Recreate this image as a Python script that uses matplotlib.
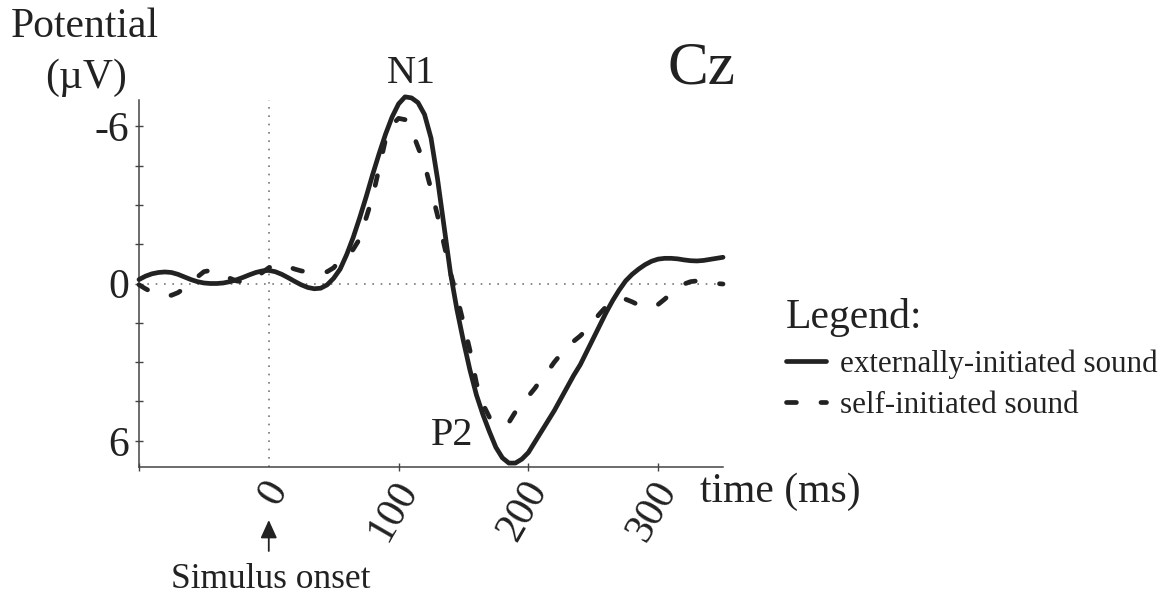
import numpy as np
import matplotlib
matplotlib.use("Agg")
import matplotlib.pyplot as plt
from matplotlib.transforms import ScaledTranslation

# ---------------- data ----------------
time_ms = [-100, -95, -90, -85, -80, -75, -70, -65, -60, -55, -50, -45, -40, -35, -30, -25,
           -20, -15, -10, -5, 0, 5, 10, 15, 20, 25, 30, 35, 40, 45, 50, 55, 60, 65, 70, 75,
           80, 85, 90, 95, 100, 105, 110, 115, 120, 125, 130, 135, 140, 145, 150, 155, 160,
           165, 170, 175, 180, 185, 190, 195, 200, 205, 210, 215, 220, 225, 230, 235, 240,
           245, 250, 255, 260, 265, 270, 275, 280, 285, 290, 295, 300, 305, 310, 315, 320,
           325, 330, 335, 340, 345, 350]

external_uv = [-0.15, -0.28, -0.37, -0.42, -0.44, -0.42, -0.35, -0.25, -0.15, -0.07, -0.02,
               0.00, 0.00, -0.02, -0.07, -0.14, -0.23, -0.33, -0.42, -0.48, -0.50, -0.45,
               -0.35, -0.22, -0.08, 0.05, 0.15, 0.20, 0.18, 0.05, -0.20, -0.55, -1.10, -1.75,
               -2.50, -3.30, -4.15, -4.95, -5.70, -6.35, -6.85, -7.12, -7.08, -6.90, -6.45,
               -5.55, -4.00, -2.20, -0.40, 1.00, 2.20, 3.30, 4.25, 5.00, 5.65, 6.25, 6.65,
               6.85, 6.85, 6.70, 6.45, 6.05, 5.65, 5.25, 4.85, 4.40, 3.95, 3.50, 3.10, 2.60,
               2.10, 1.60, 1.10, 0.65, 0.25, -0.10, -0.35, -0.55, -0.72, -0.85, -0.93, -0.96,
               -0.96, -0.94, -0.90, -0.87, -0.86, -0.88, -0.92, -0.96, -1.00]

self_uv = [0.05, 0.20, 0.33, 0.42, 0.47, 0.45, 0.35, 0.18, -0.02, -0.25, -0.45, -0.50, -0.45,
           -0.32, -0.20, -0.10, -0.06, -0.10, -0.22, -0.42, -0.60, -0.72, -0.72, -0.64, -0.55,
           -0.48, -0.44, -0.43, -0.42, -0.45, -0.60, -0.90, -1.00, -1.30, -1.70, -2.50,
           -3.30, -4.40, -5.50, -6.05, -6.30, -6.25, -5.85, -5.20, -4.55, -3.60, -2.60,
           -1.50, -0.40, 0.50, 1.50, 2.55, 3.80, 4.60, 5.10, 5.35, 5.40, 5.30, 4.90, 4.58,
           4.30, 4.00, 3.65, 3.35, 3.00, 2.70, 2.45, 2.20, 2.00, 1.75, 1.45, 1.15, 0.88,
           0.70, 0.58, 0.60, 0.70, 0.82, 0.90, 0.90, 0.80, 0.60, 0.38, 0.18, 0.02, -0.07,
           -0.10, -0.10, -0.03, 0.00, 0.02]

series_labels = ["externally-initiated sound", "self-initiated sound"]
x_tick_values = [-100, 0, 100, 200, 300]
x_tick_labels = ["", "0", "100", "200", "300"]
y_tick_values = [-6, -4.5, -3, -1.5, 0, 1.5, 3, 4.5, 6]
y_tick_labels = ["-6", "", "", "", "0", "", "", "", "6"]

# ---------------- style ----------------
W, H = 1169, 594
INK = "#222222"
plt.rcParams["font.family"] = ["Liberation Serif", "DejaVu Serif"]
plt.rcParams["text.color"] = INK

fig = plt.figure(figsize=(W / 100, H / 100), dpi=100)
fig.patch.set_facecolor("white")


def fx(px):
    return px / W


def fy(py):
    return 1 - py / H


ax = fig.add_axes([fx(139), fy(467), fx(723) - fx(139), fy(100) - fy(467)])
ax.set_facecolor("white")

# zero reference lines
ax.axhline(0, color="#777777", lw=1.2, ls=(0, (1, 4)), zorder=1)
ax.axvline(0, color="#777777", lw=1.2, ls=(0, (1, 4)), zorder=1)

ax.plot(time_ms, external_uv, color=INK, lw=3.4, solid_capstyle="round",
        label=series_labels[0], clip_on=False, zorder=3)
ax.plot(time_ms, self_uv, color=INK, lw=3.4, ls=(0, (2.1, 5.2)),
        dash_capstyle="round", label=series_labels[1], clip_on=False, zorder=3)

ax.set_xlim(-100, 350)
ax.set_ylim(7, -7)

for s in ["top", "right"]:
    ax.spines[s].set_visible(False)
for s in ["left", "bottom"]:
    ax.spines[s].set_color("#444444")
    ax.spines[s].set_linewidth(1.1)

ax.set_yticks(y_tick_values)
ax.set_yticklabels(y_tick_labels)
ax.tick_params(axis="y", direction="inout", length=6, width=1.0, color="#444444",
               labelsize=30, pad=4, labelcolor=INK)

ax.set_xticks(x_tick_values)
ax.set_xticklabels(x_tick_labels, rotation=60, ha="right", va="center",
                   rotation_mode="anchor")
ax.tick_params(axis="x", direction="inout", length=6, width=1.0, color="#444444",
               labelsize=30, pad=9, labelcolor=INK)
ax.xaxis.get_major_ticks()[1].tick1line.set_visible(False)
for lab in ax.get_xticklabels():
    lab.set_transform(lab.get_transform() + ScaledTranslation(0.10, 0, fig.dpi_scale_trans))

# axis titles and annotations
fig.text(fx(85), fy(37), "Potential", ha="center", va="baseline", fontsize=30)
fig.text(fx(86), fy(88), "(\u00b5V)", ha="center", va="baseline", fontsize=30)
fig.text(fx(700), fy(502), "time (ms)", ha="left", va="baseline", fontsize=30)
fig.text(fx(667), fy(83), "Cz", ha="left", va="baseline", fontsize=44)
fig.text(fx(411), fy(83), "N1", ha="center", va="baseline", fontsize=29)
fig.text(fx(452), fy(445), "P2", ha="center", va="baseline", fontsize=29)

ax.annotate("", xy=(0, fy(520)), xycoords=("data", "figure fraction"),
            xytext=(0, fy(551)), textcoords=("data", "figure fraction"),
            arrowprops=dict(arrowstyle="-|>,head_length=1.1,head_width=0.5",
                            color=INK, lw=1.3, shrinkA=0, shrinkB=0),
            annotation_clip=False)
fig.text(fx(271), fy(588), "Simulus onset", ha="center", va="baseline", fontsize=25.5)

leg = ax.legend(loc="upper left", bbox_to_anchor=(fx(786), fy(298)),
                bbox_transform=fig.transFigure, frameon=False, title="Legend:",
                title_fontsize=30, fontsize=22.3, handlelength=1.3, handletextpad=0.45,
                labelspacing=0.4, borderpad=0, borderaxespad=0, alignment="left")

fig.savefig("out.png", dpi=100, facecolor="white")
